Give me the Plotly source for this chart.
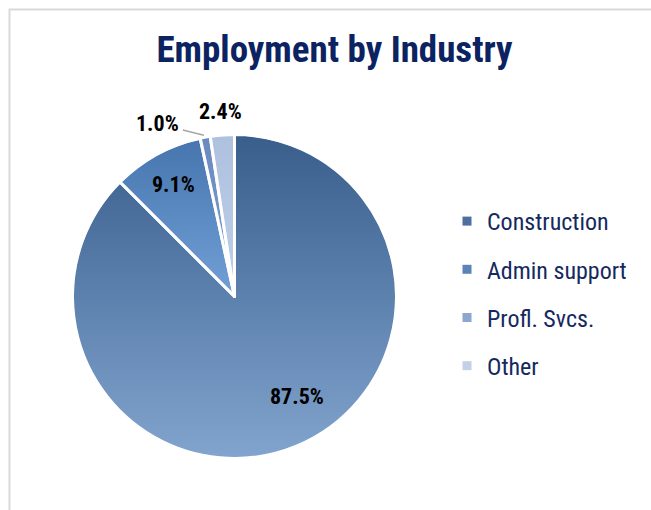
import base64
import math
import plotly.graph_objects as go

# --- data -------------------------------------------------------------
industries = ["Construction", "Admin support", "Profl. Svcs.", "Other"]
shares = [87.5, 9.1, 1.0, 2.4]

# --- styling ----------------------------------------------------------
W, H = 651, 510
FONT = "Roboto Condensed, Open Sans Condensed, Arial Narrow, sans-serif"
NAVY = "#0b2361"

# slice fills are translucent and sit over a vertical dark-to-light disc,
# which gives each wedge a top-to-bottom shading
slice_fill = [
    "rgba(79,125,178,0.63)",
    "rgba(112,178,254,0.55)",
    "rgba(129,163,217,0.80)",
    "rgba(202,220,247,0.85)",
]
legend_swatch = ["#4f6f9e", "#5a83b8", "#8ba6cf", "#c3d0e6"]

# label placement: radial distance (fraction of radius) and a small
# angular nudge (degrees) away from each slice's mid-angle
label_radius = [0.725, 0.785, 1.01, 1.147]
label_nudge = [-9.5, 0.0, 0.0, 0.0]

# pie placement in pixels
cx, cy, r = 234.5, 296.5, 162.0
dom_x = [(cx - r) / W, (cx + r) / W]
dom_y = [(H - cy - r) / H, (H - cy + r) / H]

fig = go.Figure()

fig.add_trace(go.Pie(
    labels=industries,
    values=shares,
    sort=False,
    direction="clockwise",
    rotation=0,
    domain=dict(x=dom_x, y=dom_y),
    marker=dict(colors=slice_fill, line=dict(color="white", width=3)),
    textinfo="none",
    showlegend=False,
    hoverinfo="label+percent",
))

# legend entries, one group each so they can be spaced apart
for name, col in zip(industries, legend_swatch):
    fig.add_trace(go.Scatter(
        x=[None], y=[None], mode="markers", name=name, legendgroup=name,
        marker=dict(symbol="square", size=9, color=col),
    ))


def to_paper(px, py):
    return px / W, 1 - py / H


# percentage labels placed around each slice's mid-angle
total = sum(shares)
annotations = []
start = 0.0
for name, v, f, nudge in zip(industries, shares, label_radius, label_nudge):
    mid = math.radians(360.0 * (start + v / 2) / total + nudge)
    start += v
    px = cx + f * r * math.sin(mid)
    py = cy - f * r * math.cos(mid)
    x, y = to_paper(px, py)
    a = dict(text=f"<b>{v / total:.1%}</b>", x=x, y=y, xref="paper", yref="paper",
             xanchor="center", yanchor="middle", showarrow=False,
             font=dict(family=FONT, size=22, color="black"))
    if name == "Profl. Svcs.":
        # thin slice: label pulled off to the left with a leader line
        a.update(showarrow=True, arrowhead=0, arrowwidth=1.5, arrowcolor="#a6a6a6",
                 ax=-47, ay=-12, standoff=1, startstandoff=2)
    annotations.append(a)

# shaded disc under the translucent slices
svg = (
    '<svg xmlns="http://www.w3.org/2000/svg" viewBox="0 0 100 100" '
    'preserveAspectRatio="none"><defs><linearGradient id="g" x1="0" y1="0" '
    'x2="0" y2="1"><stop offset="0" stop-color="#142a4e"/>'
    '<stop offset="1" stop-color="#d7e7ff"/></linearGradient></defs>'
    '<circle cx="50" cy="50" r="49.6" fill="url(#g)"/></svg>'
)
disc = "data:image/svg+xml;base64," + base64.b64encode(svg.encode()).decode()

fig.update_layout(
    width=W, height=H,
    margin=dict(l=0, r=0, t=0, b=0),
    paper_bgcolor="white",
    plot_bgcolor="rgba(0,0,0,0)",
    xaxis=dict(visible=False),
    yaxis=dict(visible=False),
    title=dict(
        text="<b>Employment by Industry</b>",
        x=334.5 / W, xanchor="center",
        y=1 - 49.5 / H, yanchor="middle", yref="container",
        font=dict(family=FONT, size=37, color=NAVY),
    ),
    legend=dict(
        x=447 / W, xanchor="left",
        y=1 - 199 / H, yanchor="top",
        font=dict(family=FONT, size=24, color="#14295e"),
        tracegroupgap=14,
        bgcolor="rgba(0,0,0,0)",
    ),
    annotations=annotations,
    images=[dict(
        source=disc, xref="paper", yref="paper",
        x=dom_x[0], y=dom_y[1], sizex=dom_x[1] - dom_x[0], sizey=dom_y[1] - dom_y[0],
        xanchor="left", yanchor="top", sizing="stretch", layer="below",
    )],
    shapes=[dict(
        type="rect", xref="paper", yref="paper",
        x0=9.5 / W, y0=-0.05, x1=1.05, y1=1 - 9.5 / H,
        line=dict(color="#d9d9d9", width=2), fillcolor="rgba(0,0,0,0)",
    )],
)

fig.write_html("out.html")
